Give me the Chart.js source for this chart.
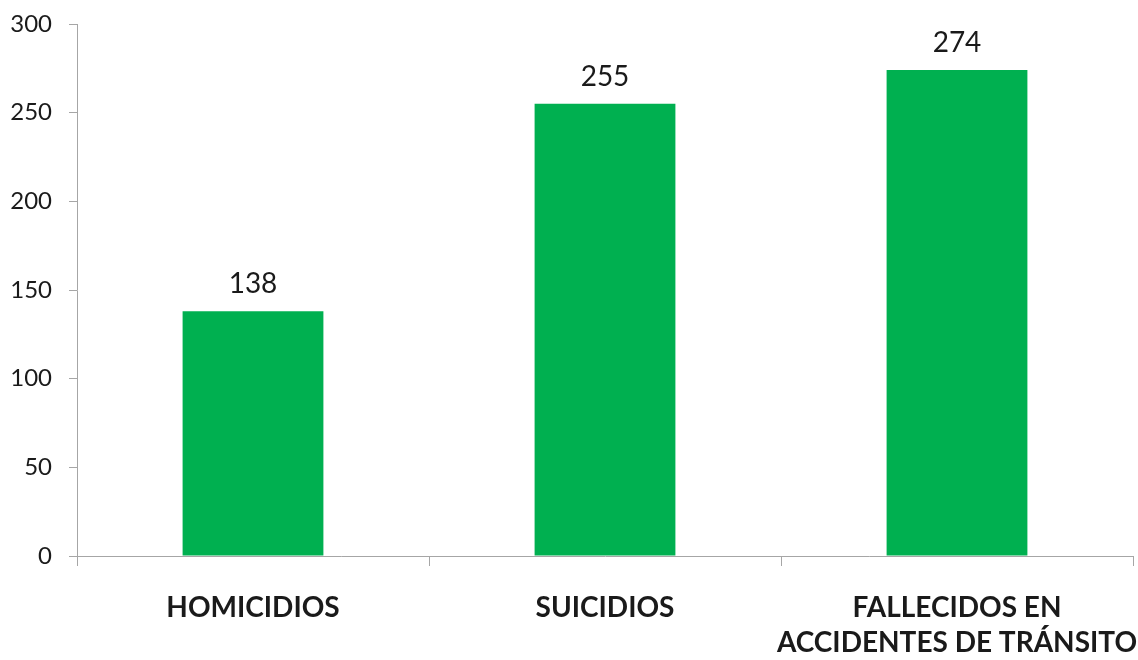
<!DOCTYPE html>
<html>
<head>
<meta charset="utf-8">
<script src="https://cdn.jsdelivr.net/npm/chart.js@4"></script>
<style>
  html, body { margin: 0; padding: 0; background: #ffffff; }
  #wrap { width: 1138px; height: 660px; position: relative; }
</style>
</head>
<body>
<div id="wrap"><canvas id="c" width="1138" height="660"></canvas></div>
<script>
const categories = ["HOMICIDIOS", "SUICIDIOS", ["FALLECIDOS EN", "ACCIDENTES DE TRÁNSITO"]];
const values = [138, 255, 274];
const yMin = 0, yMax = 300, yStep = 50;

const TEXT = "#1a1a1a";
const AXIS = "#a6a6a6";
const BAR = "#00b050";
const FONT = "Lato, 'Open Sans', sans-serif";

const valueLabels = {
  id: "valueLabels",
  afterDatasetsDraw(chart) {
    const ctx = chart.ctx;
    const meta = chart.getDatasetMeta(0);
    ctx.save();
    ctx.font = "28px " + FONT;
    ctx.fillStyle = TEXT;
    ctx.textAlign = "center";
    ctx.textBaseline = "alphabetic";
    meta.data.forEach((bar, i) => {
      ctx.fillText(String(values[i]), bar.x, bar.y - 18);
    });
    ctx.restore();
  }
};

new Chart(document.getElementById("c"), {
  type: "bar",
  data: {
    labels: categories,
    datasets: [{
      data: values,
      backgroundColor: BAR,
      borderWidth: 0,
      barPercentage: 0.4,
      categoryPercentage: 1.0
    }]
  },
  options: {
    responsive: false,
    animation: false,
    devicePixelRatio: 1,
    layout: { padding: { top: 24, right: 5, left: 0, bottom: 0 } },
    plugins: { legend: { display: false }, tooltip: { enabled: false } },
    scales: {
      x: {
        afterFit(s) { s.height = 104; s.paddingLeft = 0; s.paddingRight = 0; },
        grid: {
          offset: true,
          drawOnChartArea: false,
          drawTicks: true,
          tickLength: 10,
          color: AXIS,
          lineWidth: 1
        },
        border: { display: true, color: AXIS, width: 1 },
        ticks: {
          color: TEXT,
          padding: 24,
          maxRotation: 0,
          autoSkip: false,
          font: { family: FONT, size: 28, weight: "bold", lineHeight: 1.25 }
        }
      },
      y: {
        min: yMin,
        max: yMax,
        afterFit(s) { s.width = 77; s.paddingTop = 0; s.paddingBottom = 0; },
        grid: {
          drawOnChartArea: false,
          drawTicks: true,
          tickLength: 8,
          color: AXIS,
          lineWidth: 1
        },
        border: { display: true, color: AXIS, width: 1 },
        ticks: {
          stepSize: yStep,
          color: TEXT,
          padding: 17,
          font: { family: FONT, size: 24 }
        }
      }
    }
  },
  plugins: [valueLabels]
});
</script>
</body>
</html>
